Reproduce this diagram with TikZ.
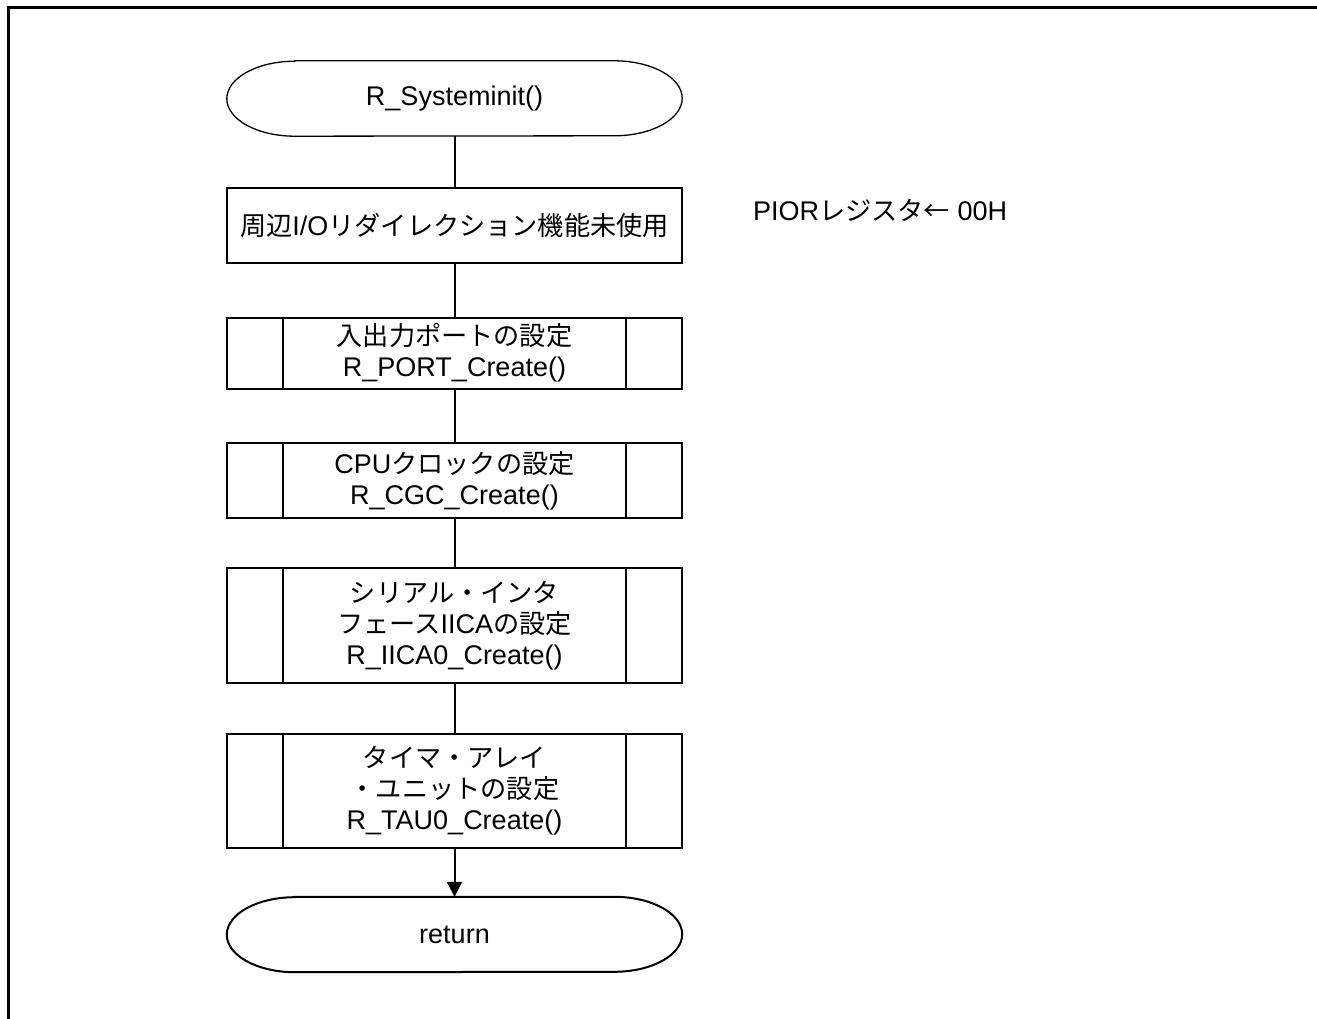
\documentclass[tikz,border=0pt]{standalone}
\usepackage{fontspec}
\setmainfont{Liberation Sans}
\newfontfamily\jp{Noto Sans CJK JP}[Scale=0.97]
\usetikzlibrary{calc,arrows.meta}
\begin{document}
\begin{tikzpicture}[x=1pt,y=-1pt,
  every node/.style={font=\fontsize{27}{31}\selectfont, align=center, inner sep=0pt},
  proc/.style={draw, line width=2pt, minimum width=455pt},
  term/.style={minimum width=455pt, minimum height=75pt},
  conn/.style={line width=2pt}]
\useasboundingbox (0,0) rectangle (1317,1019);
\draw[line width=3pt] (8,1019) -- (8,8) -- (1317,8);

\node[term] (s) at (454.5,98.5) {R\_Systeminit()};
\draw[line width=1.3pt] ($(s.north west)+(68pt,0pt)$) -- ($(s.north east)+(-68pt,0pt)$)
  arc[start angle=90,end angle=-90,x radius=68pt,y radius=37.5pt]
  -- ($(s.south west)+(68pt,0pt)$)
  arc[start angle=270,end angle=90,x radius=68pt,y radius=37.5pt] -- cycle;

\node[proc, minimum height=75pt] (b1) at (454.5,225.5) {{\jp 周辺}I/O{\jp リダイレクション機能未使用}};
\node[anchor=west] (note) at (753,210) {PIOR{\jp レジスタ←} 00H};

\node[proc, minimum height=71pt] (b2) at (454.5,353) {{\jp 入出力ポートの設定}\\R\_PORT\_Create()};
\node[proc, minimum height=75pt] (b3) at (454.5,480.5) {CPU{\jp クロックの設定}\\R\_CGC\_Create()};
\node[proc, minimum height=115pt] (b4) at (454.5,625.5) {{\jp シリアル・インタ}\\{\jp フェース}IICA{\jp の設定}\\R\_IICA0\_Create()};
\node[proc, minimum height=114pt] (b5) at (454.5,791) {{\jp タイマ・アレイ}\\{\jp ・ユニットの設定}\\R\_TAU0\_Create()};

\foreach \n in {b2,b3,b4,b5}{
  \draw[line width=2pt] ($(\n.north west)+(57pt,0pt)$) -- ($(\n.south west)+(57pt,0pt)$);
  \draw[line width=2pt] ($(\n.north east)+(-57pt,0pt)$) -- ($(\n.south east)+(-57pt,0pt)$);
}

\node[term] (r) at (454.5,934.5) {return};
\draw[line width=2pt] ($(r.north west)+(68pt,0pt)$) -- ($(r.north east)+(-68pt,0pt)$)
  arc[start angle=90,end angle=-90,x radius=68pt,y radius=37.5pt]
  -- ($(r.south west)+(68pt,0pt)$)
  arc[start angle=270,end angle=90,x radius=68pt,y radius=37.5pt] -- cycle;

\draw[conn] (s) -- (b1);
\draw[conn] (b1) -- (b2);
\draw[conn] (b2) -- (b3);
\draw[conn] (b3) -- (b4);
\draw[conn] (b4) -- (b5);
\draw[conn,-{Triangle[length=15pt,width=15pt]}] (b5) -- (r);
\end{tikzpicture}
\end{document}
